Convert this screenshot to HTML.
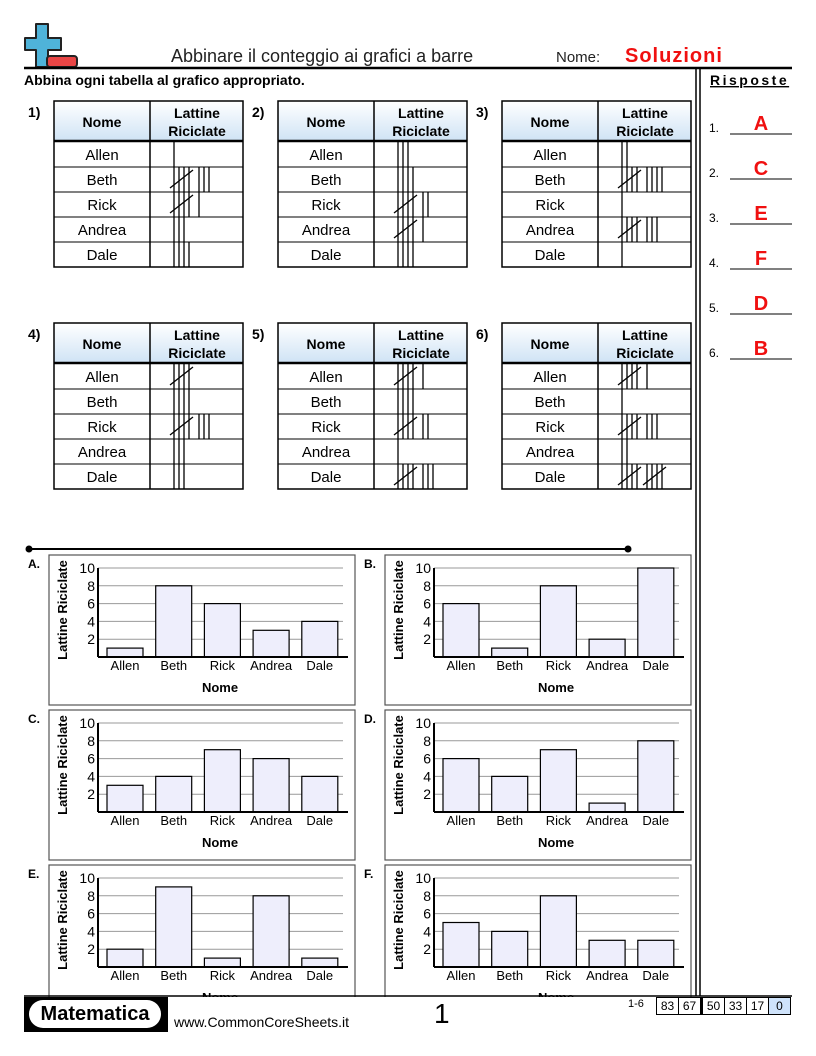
<!DOCTYPE html>
<html><head><meta charset="utf-8"><style>
body{margin:0;width:816px;height:1056px;background:#fff;position:relative;overflow:hidden;font-family:"Liberation Sans",sans-serif;}
.abs{position:absolute;}
</style></head><body>
<svg id="s" width="816" height="1056" xmlns="http://www.w3.org/2000/svg" style="position:absolute;left:0;top:0;font-family:'Liberation Sans',sans-serif">
<defs><linearGradient id="hg" x1="0" y1="0" x2="0" y2="1"><stop offset="0" stop-color="#ffffff"/><stop offset="1" stop-color="#cfe3f5"/></linearGradient></defs>
<g>
<path d="M36 24h12v14h13v12H48v17H36V50H25V38h11z" fill="#4fb3d9" stroke="#222" stroke-width="2" stroke-linejoin="round"/>
<rect x="47" y="56" width="30" height="11" rx="3" fill="#e84545" stroke="#222" stroke-width="2"/>
</g>
<text x="171" y="62" font-size="18" fill="#222">Abbinare il conteggio ai grafici a barre</text>
<text x="556" y="62" font-size="15" fill="#222">Nome:</text>
<text x="625" y="62" font-size="20" font-weight="bold" fill="#f01010" letter-spacing="1">Soluzioni</text>
<line x1="24" y1="68" x2="792" y2="68" stroke="#000" stroke-width="2.5"/>
<text x="24" y="85" font-size="14" font-weight="bold">Abbina ogni tabella al grafico appropriato.</text>
<line x1="696" y1="68" x2="696" y2="996" stroke="#000" stroke-width="1.5"/>
<line x1="700" y1="68" x2="700" y2="996" stroke="#000" stroke-width="1.5"/>
<text x="710" y="85" font-size="14" font-weight="bold" letter-spacing="2.5" text-decoration="underline">Risposte</text>
<line x1="28" y1="549" x2="628" y2="549" stroke="#000" stroke-width="2"/>
<circle cx="29" cy="549" r="3.5"/><circle cx="628" cy="549" r="3.5"/>
<g id="g"></g>
</svg>
<div class="abs" style="left:24px;top:997px;width:144px;height:35px;background:#000"><div style="position:absolute;left:5px;top:3px;width:132px;height:28px;background:#fff;border-radius:14px;text-align:center;font:bold 20px/28px 'Liberation Sans',sans-serif">Matematica</div></div>
<div class="abs" style="left:174px;top:1014px;font-size:14px">www.CommonCoreSheets.it</div>
<div class="abs" style="left:434px;top:998px;font-size:28px">1</div>
<div class="abs" style="left:628px;top:998px;font-size:11px">1-6</div>
<div class="abs" style="left:656px;top:997px;display:flex;font-size:12px;line-height:16px">
<span style="border:1px solid #000;width:21px;text-align:center">83</span><span style="border:1px solid #000;border-left:0;width:21px;text-align:center">67</span><span style="border:1px solid #000;border-left:2px solid #000;width:21px;text-align:center">50</span><span style="border:1px solid #000;border-left:0;width:21px;text-align:center">33</span><span style="border:1px solid #000;border-left:0;width:21px;text-align:center">17</span><span style="border:1px solid #000;border-left:0;width:21px;text-align:center;background:#cfe3fb">0</span></div>
<script>
const names=["Allen","Beth","Rick","Andrea","Dale"];
const tallies=[[1,8,6,3,4],[3,4,7,6,4],[2,9,1,8,1],[5,4,8,3,3],[6,4,7,1,8],[6,1,8,2,10]];
const chartLetters=["A","B","C","D","E","F"];
const chartValues=[[1,8,6,3,4],[6,1,8,2,10],[3,4,7,6,4],[6,4,7,1,8],[2,9,1,8,1],[5,4,8,3,3]];
const yTicks=[2,4,6,8,10];
const answers=["A","C","E","F","D","B"];
const NS="http://www.w3.org/2000/svg";
const G=document.getElementById('g');
function el(t,a,p){const e=document.createElementNS(NS,t);for(const k in a)e.setAttribute(k,a[k]);(p||G).appendChild(e);return e;}
function txt(x,y,s,a,p){const e=el('text',Object.assign({x:x,y:y},a),p);e.textContent=s;return e;}
tallies.forEach((vals,ti)=>{
  const tx=54+(ti%3)*224, ty=ti<3?101:323;
  const g=el('g',{});
  
  
  txt(tx-26,ty+16,(ti+1)+')',{'font-size':14,'font-weight':'bold'},g);
  el('rect',{x:tx,y:ty,width:189,height:40,fill:'url(#hg)'},g);
  txt(tx+48,ty+26,'Nome',{'font-size':14,'font-weight':'bold','text-anchor':'middle'},g);
  txt(tx+143,ty+17,'Lattine',{'font-size':14,'font-weight':'bold','text-anchor':'middle'},g);
  txt(tx+143,ty+35,'Riciclate',{'font-size':14,'font-weight':'bold','text-anchor':'middle'},g);
  vals.forEach((v,r)=>{
    const ry=ty+41+r*25;
    txt(tx+48,ry+18,names[r],{'font-size':15,'text-anchor':'middle'},g);
    el('line',{x1:tx,y1:ry+25,x2:tx+189,y2:ry+25,stroke:'#000','stroke-width':1},g);
    let x=tx+120, left=v;
    while(left>0){
      if(left>=5){
        for(let i=0;i<4;i++)el('line',{x1:x+i*5,y1:ry,x2:x+i*5,y2:ry+25,stroke:'#000','stroke-width':1.3},g);
        el('line',{x1:x-4,y1:ry+21,x2:x+19,y2:ry+3,stroke:'#000','stroke-width':1.3},g);
        x+=25;left-=5;
      }else{
        for(let i=0;i<left;i++)el('line',{x1:x+i*5,y1:ry,x2:x+i*5,y2:ry+25,stroke:'#000','stroke-width':1.3},g);
        left=0;
      }
    }
  });
  el('rect',{x:tx,y:ty,width:189,height:166,fill:'none',stroke:'#000','stroke-width':1.5},g);
  el('line',{x1:tx,y1:ty+40,x2:tx+189,y2:ty+40,stroke:'#000','stroke-width':2.5},g);
  el('line',{x1:tx+96,y1:ty,x2:tx+96,y2:ty+166,stroke:'#000','stroke-width':1.5},g);
});
chartValues.forEach((vals,ci)=>{
  const bx=49+(ci%2)*336, by=555+Math.floor(ci/2)*155;
  const g=el('g',{});
  
  
  txt(bx-21,by+13,chartLetters[ci]+'.',{'font-size':12,'font-weight':'bold'},g);
  el('rect',{x:bx,y:by,width:306,height:150,fill:'#fff',stroke:'#555','stroke-width':1.2},g);
  const x0=bx+49, y0=by+102, ph=89, pw=245;
  const ys=v=>y0-v/10*ph;
  yTicks.forEach(t=>{
    el('line',{x1:x0,y1:ys(t),x2:x0+pw,y2:ys(t),stroke:'#999','stroke-width':1},g);
    txt(x0-3,ys(t)+5,t,{'font-size':14,'text-anchor':'end'},g);
  });
  vals.forEach((v,i)=>{
    const cx=x0+27+i*48.7;
    const b=el('rect',{x:cx-18,y:ys(v),width:36,height:y0-ys(v),fill:'#eeeefc',stroke:'#000','stroke-width':1.2},g);
    
    
    txt(cx,y0+13,names[i],{'font-size':13,'text-anchor':'middle'},g);
  });
  el('line',{x1:x0,y1:ys(10),x2:x0,y2:y0,stroke:'#000','stroke-width':2},g);
  el('line',{x1:x0,y1:y0,x2:x0+250,y2:y0,stroke:'#000','stroke-width':2},g);
  txt(x0+122,y0+35,'Nome',{'font-size':13,'font-weight':'bold','text-anchor':'middle'},g);
  txt(0,0,'Lattine Riciclate',{'font-size':13,'font-weight':'bold','text-anchor':'middle',transform:`translate(${bx+18},${by+55}) rotate(-90)`},g);
});
el('rect',{x:0,y:997,width:816,height:59,fill:'#fff'});
el('line',{x1:24,y1:996,x2:792,y2:996,stroke:'#000','stroke-width':1.5});
answers.forEach((a,i)=>{
  const y=134+i*45;
  const g=el('g',{});
  
  
  txt(709,y-2,(i+1)+'.',{'font-size':12},g);
  el('line',{x1:730,y1:y,x2:792,y2:y,stroke:'#000','stroke-width':1},g);
  txt(761,y-4,a,{'font-size':20,'font-weight':'bold',fill:'#f01010','text-anchor':'middle'},g);
});
</script>
</body></html>
